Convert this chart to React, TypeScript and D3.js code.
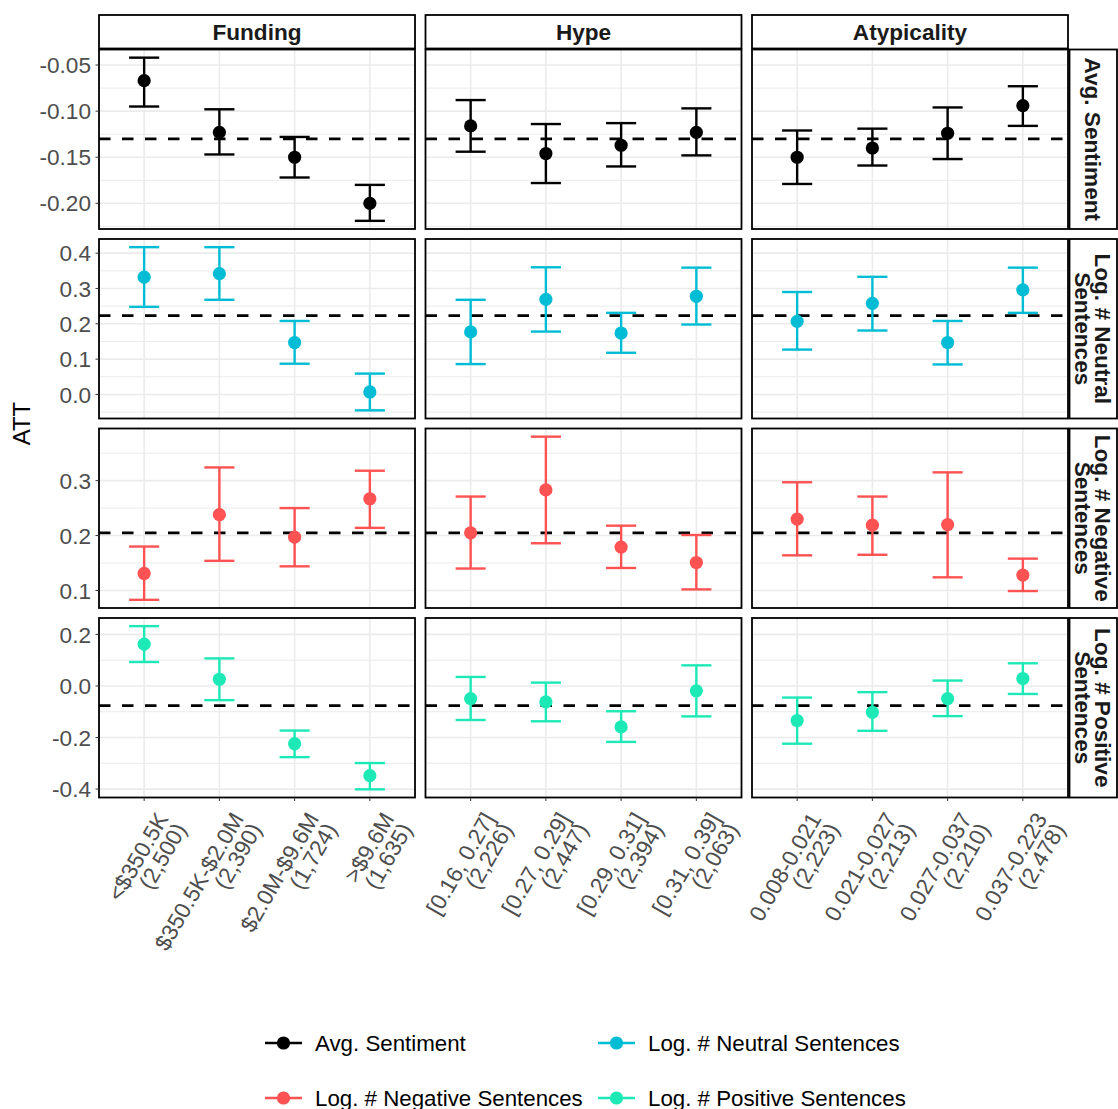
import React from "react";
import * as d3 from "d3";

// Facet columns (treatment dimension) and rows (outcomes)
const facetNames = ["Funding", "Hype", "Atypicality"];
const outcomeNames = [
  "Avg. Sentiment",
  "Log. # Neutral Sentences",
  "Log. # Negative Sentences",
  "Log. # Positive Sentences",
];
const outcomeStripLines = [
  ["Avg. Sentiment"],
  ["Log. # Neutral", "Sentences"],
  ["Log. # Negative", "Sentences"],
  ["Log. # Positive", "Sentences"],
];
const outcomeColors = ["#000000", "#00BCD4", "#FF5252", "#1DE9B6"];

// Bins per facet with their sample counts
const fundingBins = ["<$350.5K", "$350.5K-$2.0M", "$2.0M-$9.6M", ">$9.6M"];
const fundingCounts = ["(2,500)", "(2,390)", "(1,724)", "(1,635)"];
const hypeBins = ["[0.16, 0.27]", "[0.27, 0.29]", "[0.29, 0.31]", "[0.31, 0.39]"];
const hypeCounts = ["(2,226)", "(2,447)", "(2,394)", "(2,063)"];
const atypBins = ["0.008-0.021", "0.021-0.027", "0.027-0.037", "0.037-0.223"];
const atypCounts = ["(2,223)", "(2,213)", "(2,210)", "(2,478)"];

// ATT estimates and 95% CI, indexed [facet][bin]
const sentimentEst = [
  [-0.067, -0.123, -0.15, -0.2],
  [-0.116, -0.146, -0.137, -0.123],
  [-0.15, -0.14, -0.124, -0.094],
];
const sentimentLo = [
  [-0.095, -0.147, -0.172, -0.219],
  [-0.144, -0.178, -0.16, -0.148],
  [-0.179, -0.159, -0.152, -0.116],
];
const sentimentHi = [
  [-0.042, -0.098, -0.128, -0.18],
  [-0.088, -0.114, -0.113, -0.097],
  [-0.121, -0.119, -0.096, -0.073],
];

const neutralEst = [
  [0.332, 0.342, 0.147, 0.007],
  [0.177, 0.269, 0.174, 0.278],
  [0.207, 0.258, 0.147, 0.296],
];
const neutralLo = [
  [0.248, 0.268, 0.087, -0.045],
  [0.086, 0.178, 0.118, 0.198],
  [0.127, 0.181, 0.085, 0.231],
];
const neutralHi = [
  [0.417, 0.417, 0.208, 0.059],
  [0.268, 0.36, 0.231, 0.359],
  [0.29, 0.333, 0.208, 0.359],
];

const negativeEst = [
  [0.131, 0.238, 0.197, 0.267],
  [0.205, 0.283, 0.179, 0.151],
  [0.23, 0.219, 0.22, 0.128],
];
const negativeLo = [
  [0.083, 0.154, 0.144, 0.214],
  [0.14, 0.186, 0.141, 0.102],
  [0.164, 0.165, 0.124, 0.099],
];
const negativeHi = [
  [0.18, 0.324, 0.25, 0.318],
  [0.271, 0.38, 0.218, 0.201],
  [0.297, 0.271, 0.315, 0.158],
];

const positiveEst = [
  [0.162, 0.026, -0.224, -0.348],
  [-0.049, -0.062, -0.159, -0.019],
  [-0.134, -0.102, -0.049, 0.029],
];
const positiveLo = [
  [0.093, -0.055, -0.276, -0.401],
  [-0.132, -0.137, -0.217, -0.118],
  [-0.224, -0.174, -0.117, -0.031],
];
const positiveHi = [
  [0.232, 0.107, -0.173, -0.299],
  [0.035, 0.013, -0.098, 0.08],
  [-0.045, -0.024, 0.021, 0.088],
];

// Pooled ATT per outcome (dashed reference line)
const pooledATT = [-0.13, 0.223, 0.205, -0.076];

// Y-axis breaks per outcome row
const yBreaks = [
  [-0.2, -0.15, -0.1, -0.05],
  [0.0, 0.1, 0.2, 0.3, 0.4],
  [0.1, 0.2, 0.3],
  [-0.4, -0.2, 0.0, 0.2],
];
const yDigits = [2, 1, 1, 1];

const binLabels = [fundingBins, hypeBins, atypBins];
const binCounts = [fundingCounts, hypeCounts, atypCounts];
const estimates = [sentimentEst, neutralEst, negativeEst, positiveEst];
const lowers = [sentimentLo, neutralLo, negativeLo, positiveLo];
const uppers = [sentimentHi, neutralHi, negativeHi, positiveHi];

// Layout
const W = 1118;
const H = 1109;
const panelLeft = 99;
const panelW = 316;
const colGap = 10.5;
const stripTop = 15;
const stripH = 33.5;
const panelTop = 49.5;
const panelH = 179.5;
const rowGap = 10;
const rightStripW = 47.5;
const FONT = "'Liberation Sans', Arial, Helvetica, sans-serif";
const TXT = 22.6;
const LEGEND_TXT = 22.3;
const labelAngle = 60;

const colX = (c: number) => panelLeft + c * (panelW + colGap);
const rowY = (r: number) => panelTop + r * (panelH + rowGap);

function minorBreaks(major: number[], lo: number, hi: number) {
  const step = major[1] - major[0];
  const out: number[] = [];
  for (let i = -1; i < major.length; i++) {
    const m = major[0] + (i + 0.5) * step;
    if (m >= lo && m <= hi) out.push(m);
  }
  return out;
}

export default function App() {
  const lastRowBottom = rowY(3) + panelH;
  const gridColor = "#EBEBEB";

  const panels: React.ReactNode[] = [];
  const yAxes: React.ReactNode[] = [];

  outcomeNames.forEach((_, r) => {
    const top = rowY(r);
    const bottom = top + panelH;
    const vals = [...lowers[r].flat(), ...uppers[r].flat()];
    const [mn, mx] = d3.extent(vals) as [number, number];
    const pad = (mx - mn) * 0.05;
    const y = d3.scaleLinear().domain([mn - pad, mx + pad]).range([bottom, top]);
    const minors = minorBreaks(yBreaks[r], mn - pad, mx + pad);
    const fmt = d3.format(`.${yDigits[r]}f`);

    yAxes.push(
      <g key={`ya${r}`}>
        {yBreaks[r].map((t) => (
          <g key={t}>
            <line x1={panelLeft - 3.5} x2={panelLeft} y1={y(t)} y2={y(t)} stroke="#333333" strokeWidth={1} />
            <text
              x={panelLeft - 8}
              y={y(t)}
              dy="0.36em"
              textAnchor="end"
              fontSize={TXT}
              fill="#4D4D4D"
              fontFamily={FONT}
            >
              {fmt(t).replace("\u2212", "-")}
            </text>
          </g>
        ))}
      </g>
    );

    facetNames.forEach((_, c) => {
      const left = colX(c);
      const right = left + panelW;
      const x = d3.scalePoint<string>().domain(binLabels[c]).range([left, right]).padding(0.6);
      const capHalf = x.step() * 0.2;
      const color = outcomeColors[r];
      panels.push(
        <g key={`p${r}-${c}`}>
          <rect x={left} y={top} width={panelW} height={panelH} fill="#FFFFFF" />
          {minors.map((m) => (
            <line key={`mi${m}`} x1={left} x2={right} y1={y(m)} y2={y(m)} stroke={gridColor} strokeWidth={1} />
          ))}
          {yBreaks[r].map((t) => (
            <line key={`ma${t}`} x1={left} x2={right} y1={y(t)} y2={y(t)} stroke={gridColor} strokeWidth={1.6} />
          ))}
          {binLabels[c].map((b) => (
            <line key={`v${b}`} x1={x(b)!} x2={x(b)!} y1={top} y2={bottom} stroke={gridColor} strokeWidth={1.6} />
          ))}
          <line
            x1={left}
            x2={right}
            y1={y(pooledATT[r])}
            y2={y(pooledATT[r])}
            stroke="#000000"
            strokeWidth={2.8}
            strokeDasharray="11.5,11.5"
          />
          {binLabels[c].map((b, i) => {
            const cx = x(b)!;
            const lo = lowers[r][c][i];
            const hi = uppers[r][c][i];
            return (
              <g key={`e${b}`} stroke={color} strokeWidth={2.4}>
                <line x1={cx} x2={cx} y1={y(lo)} y2={y(hi)} />
                <line x1={cx - capHalf} x2={cx + capHalf} y1={y(lo)} y2={y(lo)} />
                <line x1={cx - capHalf} x2={cx + capHalf} y1={y(hi)} y2={y(hi)} />
              </g>
            );
          })}
          {binLabels[c].map((b, i) => (
            <circle key={`pt${b}`} cx={x(b)!} cy={y(estimates[r][c][i])} r={6.6} fill={color} />
          ))}
          <rect x={left} y={top} width={panelW} height={panelH} fill="none" stroke="#000000" strokeWidth={1.8} />
        </g>
      );
    });
  });

  // Top strips
  const topStrips = facetNames.map((f, c) => {
    const left = colX(c);
    return (
      <g key={`ts${c}`}>
        <rect x={left} y={stripTop} width={panelW} height={stripH} fill="#FFFFFF" stroke="#000000" strokeWidth={1.8} />
        <text
          x={left + panelW / 2}
          y={stripTop + stripH / 2}
          dy="0.36em"
          textAnchor="middle"
          fontSize={TXT}
          fontWeight="bold"
          fill="#1A1A1A"
          fontFamily={FONT}
        >
          {f}
        </text>
      </g>
    );
  });

  // Right strips
  const stripX = colX(2) + panelW + 1.5;
  const rightStrips = outcomeStripLines.map((lines, r) => {
    const top = rowY(r);
    const cx = stripX + rightStripW / 2;
    const cy = top + panelH / 2;
    const lh = 20;
    return (
      <g key={`rs${r}`}>
        <rect x={stripX} y={top} width={rightStripW} height={panelH} fill="#FFFFFF" stroke="#000000" strokeWidth={1.8} />
        <text
          transform={`translate(${cx},${cy}) rotate(90)`}
          textAnchor="middle"
          fontSize={TXT}
          fontWeight="bold"
          fill="#1A1A1A"
          fontFamily={FONT}
        >
          {lines.map((ln, k) => (
            <tspan key={k} x={0} y={(k - (lines.length - 1) / 2) * lh} dy="0.36em">
              {ln}
            </tspan>
          ))}
        </text>
      </g>
    );
  });

  // X tick labels (rotated, two lines: bin and count)
  const xLabels = facetNames.map((_, c) => {
    const left = colX(c);
    const x = d3.scalePoint<string>().domain(binLabels[c]).range([left, left + panelW]).padding(0.6);
    return (
      <g key={`xl${c}`}>
        {binLabels[c].map((b, i) => (
          <g key={b}>
            <line x1={x(b)!} x2={x(b)!} y1={lastRowBottom} y2={lastRowBottom + 3.5} stroke="#333333" strokeWidth={1} />
            <text
              transform={`translate(${x(b)! + 25},${lastRowBottom + 21}) rotate(${-labelAngle})`}
              textAnchor="end"
              fontSize={TXT}
              fill="#4D4D4D"
              fontFamily={FONT}
            >
              <tspan x={0} y={0}>{b}</tspan>
              <tspan x={0} y={21}>{binCounts[c][i]}</tspan>
            </text>
          </g>
        ))}
      </g>
    );
  });

  // Legend
  const legendCols = [265, 598];
  const legendRows = [1043, 1098];
  const legend = outcomeNames.map((name, k) => {
    const lx = legendCols[k % 2];
    const ly = legendRows[Math.floor(k / 2)];
    return (
      <g key={`lg${k}`}>
        <line x1={lx} x2={lx + 37} y1={ly} y2={ly} stroke={outcomeColors[k]} strokeWidth={2.4} />
        <circle cx={lx + 18.5} cy={ly} r={6.6} fill={outcomeColors[k]} />
        <text x={lx + 50} y={ly} dy="0.36em" fontSize={LEGEND_TXT} fill="#000000" fontFamily={FONT}>
          {name}
        </text>
      </g>
    );
  });

  return (
    <svg
      width={W}
      height={H}
      viewBox={`0 0 ${W} ${H}`}
      style={{ position: "absolute", left: 0, top: 0, background: "#FFFFFF" }}
    >
      <rect x={0} y={0} width={W} height={H} fill="#FFFFFF" />
      {panels}
      {yAxes}
      {topStrips}
      {rightStrips}
      {xLabels}
      <text
        transform={`translate(21,${(panelTop + lastRowBottom) / 2}) rotate(-90)`}
        textAnchor="middle"
        dy="0.36em"
        fontSize={24}
        fill="#000000"
        fontFamily={FONT}
      >
        ATT
      </text>
      {legend}
    </svg>
  );
}
